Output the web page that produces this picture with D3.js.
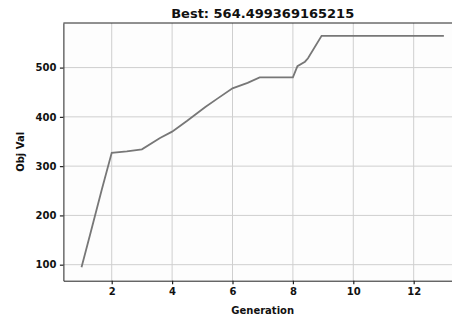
<!DOCTYPE html>
<html>
<head>
<meta charset="utf-8">
<script src="https://cdn.jsdelivr.net/npm/d3@7"></script>
<style>
  body { margin: 0; background: #fff; }
  text { font-family: "DejaVu Sans", sans-serif; fill: #111; }
</style>
</head>
<body>
<svg width="452" height="320"></svg>
<script>
// best objective value per generation
var generations = [1, 1.3, 1.67, 2, 2.5, 3, 3.6, 4, 4.5, 5.1, 5.5, 6, 6.5, 6.9, 7.5, 8, 8.15, 8.4, 8.5, 8.95, 10, 11, 12, 13];
var objVals = [95, 165, 252, 327, 330, 334, 357, 370, 392, 420, 437, 458, 469, 480, 480, 480, 503, 512, 519, 564.5, 564.5, 564.5, 564.5, 564.5];
var xTicks = [2, 4, 6, 8, 10, 12];
var yTicks = [100, 200, 300, 400, 500];
var titleText = "Best: 564.499369165215";

var svg = d3.select("svg");
// note: "top" is taken by window.top, so use plot* names
var plotLeft = 63.4, plotTop = 23, plotRight = 462, plotBottom = 280.7;

var x = d3.scaleLinear().domain([0.4, 13.6]).range([plotLeft, plotRight]);
var y = d3.scaleLinear().domain([67.5, 590.5]).range([plotBottom, plotTop]);

// plot background
svg.append("rect")
  .attr("x", plotLeft).attr("y", plotTop)
  .attr("width", plotRight - plotLeft).attr("height", plotBottom - plotTop)
  .attr("fill", "#fdfdfd");

// grid lines
svg.append("g").selectAll("line")
  .data(xTicks).enter().append("line")
  .attr("x1", function(d) { return x(d); }).attr("x2", function(d) { return x(d); })
  .attr("y1", plotTop).attr("y2", plotBottom)
  .attr("stroke", "#cfcfcf").attr("stroke-width", 1);

svg.append("g").selectAll("line")
  .data(yTicks).enter().append("line")
  .attr("x1", plotLeft).attr("x2", plotRight)
  .attr("y1", function(d) { return y(d); }).attr("y2", function(d) { return y(d); })
  .attr("stroke", "#cfcfcf").attr("stroke-width", 1);

// axes
var xAxis = svg.append("g")
  .attr("transform", "translate(0," + plotBottom + ")")
  .call(d3.axisBottom(x).tickValues(xTicks).tickSize(3.5).tickPadding(3.5).tickSizeOuter(0));
var yAxis = svg.append("g")
  .attr("transform", "translate(" + plotLeft + ",0)")
  .call(d3.axisLeft(y).tickValues(yTicks).tickSize(3.5).tickPadding(3.5).tickSizeOuter(0));

[xAxis, yAxis].forEach(function(a) {
  a.select(".domain").attr("stroke", "#222").attr("stroke-width", 1);
  a.selectAll(".tick line").attr("stroke", "#222").attr("stroke-width", 1.2);
  a.selectAll(".tick text")
    .style("font-family", "DejaVu Sans")
    .style("font-size", "10px")
    .style("font-weight", "bold")
    .attr("fill", "#111");
});

// top spine
svg.append("line")
  .attr("x1", plotLeft).attr("x2", plotRight)
  .attr("y1", plotTop).attr("y2", plotTop)
  .attr("stroke", "#222").attr("stroke-width", 1);

// the line
var line = d3.line()
  .x(function(d, i) { return x(generations[i]); })
  .y(function(d) { return y(d); });

svg.append("path")
  .datum(objVals)
  .attr("d", line)
  .attr("fill", "none")
  .attr("stroke", "#777")
  .attr("stroke-width", 1.8);

// title and labels
svg.append("text")
  .attr("x", (plotLeft + plotRight) / 2).attr("y", 18)
  .attr("text-anchor", "middle")
  .style("font-size", "13px").style("font-weight", "bold")
  .text(titleText);

svg.append("text")
  .attr("x", (plotLeft + plotRight) / 2).attr("y", 314)
  .attr("text-anchor", "middle")
  .style("font-size", "10px").style("font-weight", "bold")
  .text("Generation");

svg.append("text")
  .attr("transform", "translate(24," + ((plotTop + plotBottom) / 2) + ") rotate(-90)")
  .attr("text-anchor", "middle")
  .style("font-size", "10px").style("font-weight", "bold")
  .text("Obj Val");
</script>
</body>
</html>
